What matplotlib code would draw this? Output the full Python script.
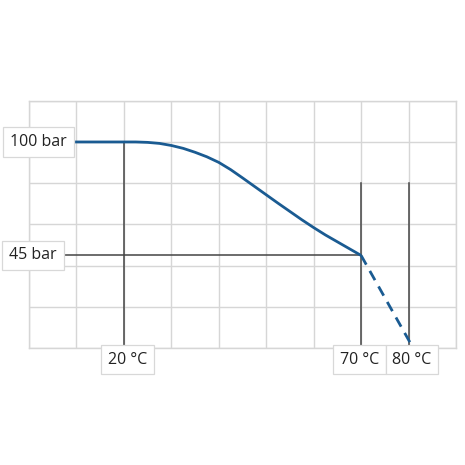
import matplotlib
matplotlib.use("Agg")
import matplotlib.pyplot as plt
import matplotlib.transforms as mtrans

plt.rcParams["font.family"] = ["Open Sans", "DejaVu Sans"]

# curve (temperature in °C, pressure in bar)
temp = [0, 10, 20, 22.5, 25, 27.5, 30, 32.5, 35, 37.5, 40, 42.5, 45, 47.5,
        50, 52.5, 55, 57.5, 60, 62.5, 65, 67.5, 70]
pressure = [100, 100, 100, 100, 99.8, 99.3, 98.3, 96.9, 95.0, 92.8, 90.1, 86.6,
            82.6, 78.5, 74.4, 70.3, 66.3, 62.3, 58.5, 54.9, 51.6, 48.3, 45]
ext_temp = [70, 81]
ext_pressure = [45, 0]

bar_labels = ["100 bar", "45 bar"]
bar_values = [100, 45]
temp_labels = ["20 °C", "70 °C", "80 °C"]
temp_values = [20, 70, 80]
temp_label_pos = [20.8, 69.6, 80.7]

blue = "#1a5b92"
dark = "#444444"
grid_c = "#d6d6d6"
box = dict(boxstyle="square,pad=0.42", fc="white", ec="#d8d8d8", lw=0.9)

fig = plt.figure(figsize=(4.65, 4.65), dpi=100)
ax = fig.add_axes([29 / 465, 1 - 348.3 / 465, 427 / 465, 247.6 / 465])
ax.set_xlim(0, 90)
ax.set_ylim(0, 120)
ax.set_xticks(range(0, 91, 10))
ax.set_yticks(range(0, 121, 20))
ax.tick_params(length=0, labelbottom=False, labelleft=False)
ax.grid(True, color=grid_c, lw=1)
for s in ax.spines.values():
    s.set_color(grid_c)
    s.set_linewidth(1)

# reference lines
ax.plot([20, 20], [0, 100], color=dark, lw=1.1, zorder=3)
ax.plot([70, 70], [0, 80], color=dark, lw=1.1, zorder=3)
ax.plot([80, 80], [0, 80], color=dark, lw=1.1, zorder=3)
ax.plot([0, 70], [45, 45], color=dark, lw=1.1, zorder=3)

ax.plot(temp, pressure, color=blue, lw=2, zorder=4, solid_capstyle="butt")
ax.plot(ext_temp, ext_pressure, color=blue, lw=2, ls=(0, (3.8, 2.6)), zorder=4,
        clip_on=False)

ytrans = mtrans.blended_transform_factory(fig.transFigure, ax.transData)
left_x = [38.5 / 465, 33 / 465]
for lab, v, x in zip(bar_labels, bar_values, left_x):
    ax.text(x, v, lab, transform=ytrans, ha="center", va="center",
            fontsize=11.5, color="#222222", bbox=box, zorder=6, clip_on=False)

xtrans = mtrans.blended_transform_factory(ax.transData, fig.transFigure)
for lab, x in zip(temp_labels, temp_label_pos):
    ax.text(x, 1 - 359.5 / 465, lab, transform=xtrans, ha="center", va="center",
            fontsize=11.5, color="#222222", bbox=box, zorder=6, clip_on=False)

fig.savefig("out.png", dpi=100, facecolor="white")
